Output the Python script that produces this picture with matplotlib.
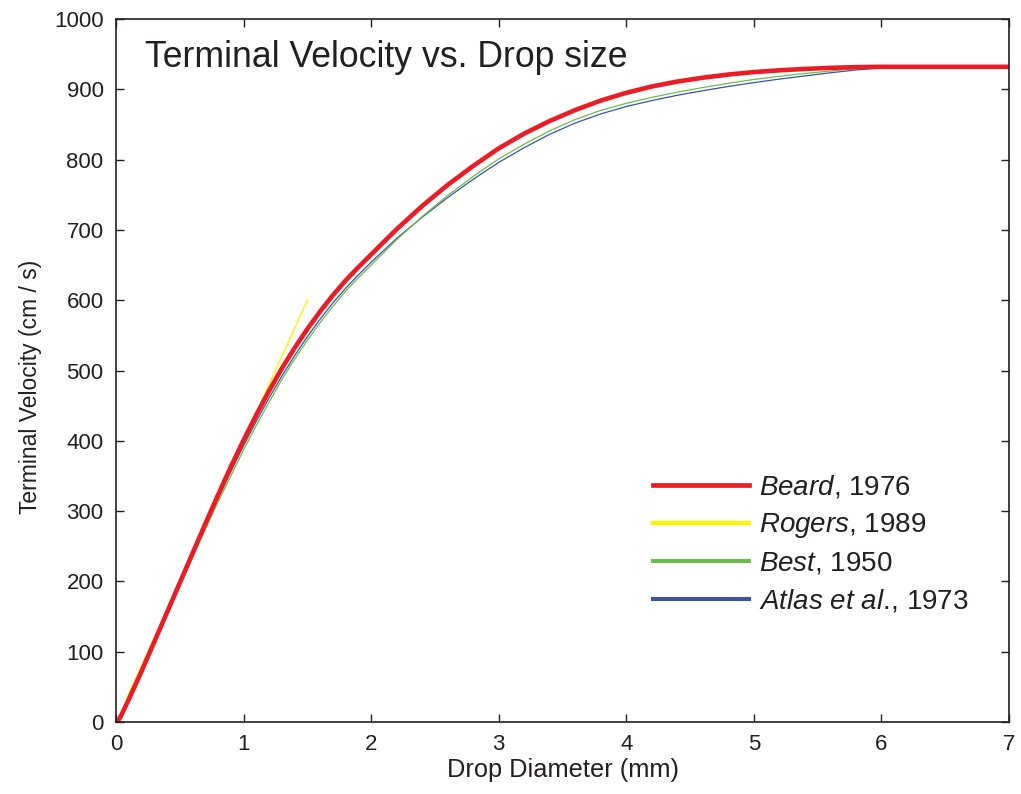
import numpy as np
import matplotlib
matplotlib.use("Agg")
import matplotlib.pyplot as plt
from matplotlib.lines import Line2D

plt.rcParams['font.family'] = ['Liberation Sans', 'DejaVu Sans']
plt.rcParams['mathtext.fontset'] = 'custom'
plt.rcParams['mathtext.rm'] = 'Liberation Sans'
plt.rcParams['mathtext.it'] = 'Liberation Sans:italic'

# --- data (drop diameter in mm, velocity in cm/s) ---
diam = [0, 0.025, 0.05, 0.1, 0.2, 0.3, 0.4, 0.5, 0.6, 0.7, 0.8, 0.9, 1.0, 1.1,
        1.2, 1.3, 1.4, 1.5, 1.6, 1.7, 1.8, 1.9, 2.0,
        2.2, 2.4, 2.6, 2.8, 3.0, 3.2, 3.4, 3.6, 3.8, 4.0,
        4.2, 4.4, 4.6, 4.8, 5.0, 5.2, 5.4, 5.6, 5.8, 6.0, 7.0]
beard = [0, 4, 13, 32, 72, 114, 156, 198, 240, 282, 323, 363, 401, 437,
         471, 503, 532, 559, 584, 607, 628, 647, 665,
         701, 734, 764, 791, 816, 837, 855, 870.5, 884, 895,
         904, 911, 916.5, 921, 924.5, 927, 929, 930.5, 931.5, 932, 932]
best = [0, 3, 11, 30, 70, 111, 152, 193, 234, 274, 313, 350, 387, 422,
        455, 487, 516, 543, 568, 591, 613, 632, 650,
        686, 719, 749, 776, 801, 822, 841, 857, 870, 880,
        888.5, 896, 902.5, 908.5, 914, 918.5, 922.5, 926, 929.5, 931.5, 931.5]
atlas = [0, 2, 10, 29, 70, 112, 154, 196, 237, 278, 318, 356, 393, 428,
         461, 492, 521, 548, 573, 596, 617, 636, 654,
         688, 718, 746, 772, 796, 817, 836, 852, 865, 875.5,
         884, 891.5, 898, 904, 909.5, 914.5, 919, 923.5, 927.5, 930.5, 931]
rogers_d = [0.08, 1.5]
rogers_v = [32, 600]

labels = [r"$\it{Beard}$, 1976", r"$\it{Rogers}$, 1989", r"$\it{Best}$, 1950",
          r"$\it{Atlas\ et\ al.\!}$, 1973"]

red = '#ED1C24'
yellow = '#FFF200'
green = '#6ABD45'
blue = '#3A53A4'
dark = '#231F20'

fig = plt.figure(figsize=(10.21, 7.94), dpi=100)
ax = fig.add_axes([116 / 1021, 1 - 722 / 794, 893 / 1021, 703 / 794])

ax.plot(diam, atlas, color=blue, lw=0.9)
ax.plot(diam, best, color=green, lw=0.9)
ax.plot(rogers_d, rogers_v, color=yellow, lw=1.0)
ax.plot(diam, beard, color=red, lw=3.3, solid_capstyle='round',
        solid_joinstyle='round')

ax.set_xlim(0, 7)
ax.set_ylim(0, 1000)
ax.set_xticks(range(0, 8))
ax.set_yticks(range(0, 1001, 100))
ax.tick_params(direction='in', length=6, width=1, colors=dark, labelsize=16,
               top=True, right=True, pad=9)
for sp in ax.spines.values():
    sp.set_color(dark)
    sp.set_linewidth(1.2)

ax.set_xlabel("Drop Diameter (mm)", fontsize=18.3, color=dark, labelpad=2)
ax.set_ylabel("Terminal Velocity (cm / s)", fontsize=16.5, color=dark)
ax.yaxis.set_label_coords(-0.083, 0.476)

ax.text(0.0325, 0.932, "Terminal Velocity vs. Drop size", transform=ax.transAxes,
        fontsize=25.7, color=dark, va='baseline', ha='left')

handles = [Line2D([], [], color=red, lw=3.4),
           Line2D([], [], color=yellow, lw=3.1),
           Line2D([], [], color=green, lw=2.9),
           Line2D([], [], color=blue, lw=2.9)]
leg = ax.legend(handles, labels, loc='upper left', bbox_to_anchor=(0.589, 0.369),
                frameon=False, fontsize=20, handlelength=3.45, handletextpad=0.35,
                labelspacing=0.38, borderaxespad=0)
for t in leg.get_texts():
    t.set_color(dark)

fig.savefig("out.png", dpi=100)
